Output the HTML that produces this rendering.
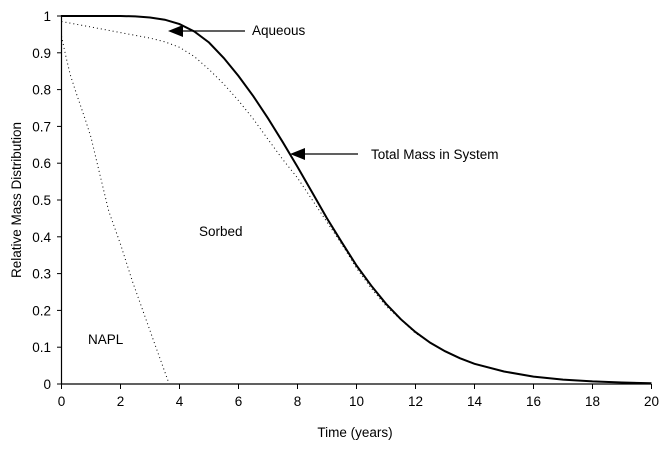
<!DOCTYPE html>
<html><head><meta charset="utf-8"><style>
body{margin:0;background:#fff}
svg{display:block;font-family:"Liberation Sans",Arial,sans-serif;font-size:13.5px}
</style></head><body>
<svg id="s" width="667" height="449" viewBox="0 0 667 449" xmlns="http://www.w3.org/2000/svg">
<rect width="667" height="449" fill="#fff"/>
<g stroke="#000" stroke-width="1.2" fill="none">
<line x1="61.5" y1="15" x2="61.5" y2="384"/>
<line x1="61" y1="384" x2="651" y2="384"/>
</g>
<g id="ticks" stroke="#000" stroke-width="1"></g>
<g id="lbl" fill="#000"></g>
<path id="napl" fill="none" stroke="#000" stroke-width="1" stroke-dasharray="1,3"/>
<path id="aq" fill="none" stroke="#000" stroke-width="1" stroke-dasharray="1,3"/>
<path id="tot" fill="none" stroke="#000" stroke-width="2"/>
<line x1="180" y1="31" x2="245" y2="31" stroke="#000" stroke-width="1.2"/>
<polygon points="168,31 183,25 183,37" fill="#000"/>
<text x="252" y="35">Aqueous</text>
<line x1="300" y1="154" x2="358" y2="154" stroke="#000" stroke-width="1.2"/>
<polygon points="290,154 305,148 305,160" fill="#000"/>
<text x="371" y="159">Total Mass in System</text>
<text x="199" y="236">Sorbed</text>
<text x="88" y="344">NAPL</text>
<text x="355" y="437" text-anchor="middle">Time (years)</text>
<text transform="translate(21,200) rotate(-90)" text-anchor="middle">Relative Mass Distribution</text>
</svg>
<script>
var X=function(x){return 61.5+x*29.5},Y=function(y){return 384-y*368};
var t=document.getElementById('ticks'),l=document.getElementById('lbl'),ns="http://www.w3.org/2000/svg";
function el(p,n,a,txt){var e=document.createElementNS(ns,n);for(var k in a)e.setAttribute(k,a[k]);if(txt!=null)e.textContent=txt;p.appendChild(e);}
for(var i=0;i<=10;i++){var x=X(i*2);el(t,'line',{x1:x,y1:384,x2:x,y2:389});el(l,'text',{x:x,y:406,'text-anchor':'middle'},i*2);}
for(var i=0;i<=10;i++){var y=Y(i/10);el(t,'line',{x1:57,y1:y,x2:61.5,y2:y});el(l,'text',{x:51,y:y+5,'text-anchor':'end'},i==0?'0':i==10?'1':(i/10).toString());}
function path(pts){var d='';for(var i=0;i<pts.length;i++)d+=(i?'L':'M')+X(pts[i][0]).toFixed(1)+','+Y(pts[i][1]).toFixed(1);return d;}
var tot=[[0,1],[2,1],[2.5,0.999],[3,0.996],[3.5,0.99],[4,0.978],[4.5,0.958],[5,0.928],[5.5,0.886],[6,0.837],[6.5,0.782],[7,0.722],[7.5,0.657],[8,0.59],[8.5,0.52],[9,0.45],[9.5,0.385],[10,0.322],[10.5,0.267],[11,0.218],[11.5,0.176],[12,0.141],[12.5,0.112],[13,0.089],[13.5,0.07],[14,0.055],[15,0.034],[16,0.02],[17,0.012],[18,0.007],[19,0.004],[20,0.002]];
var aq=[[0,0.985],[1,0.97],[2,0.955],[3,0.94],[3.5,0.93],[4,0.915],[4.5,0.89],[5,0.855],[5.5,0.815],[6,0.77],[6.5,0.72],[7,0.665],[7.5,0.61],[8,0.56],[8.5,0.5],[9,0.44],[9.5,0.38],[10,0.315],[10.5,0.26],[11,0.212],[12,0.138],[13,0.088],[14,0.055]];
var na=[[0,0.945],[0.15,0.89],[0.3,0.84],[0.5,0.79],[0.8,0.72],[1,0.67],[1.3,0.57],[1.6,0.47],[2,0.38],[2.4,0.28],[2.8,0.19],[3.2,0.1],[3.65,0]];
document.getElementById('tot').setAttribute('d',path(tot));
document.getElementById('aq').setAttribute('d',path(aq));
document.getElementById('napl').setAttribute('d',path(na));
</script>
</body></html>
